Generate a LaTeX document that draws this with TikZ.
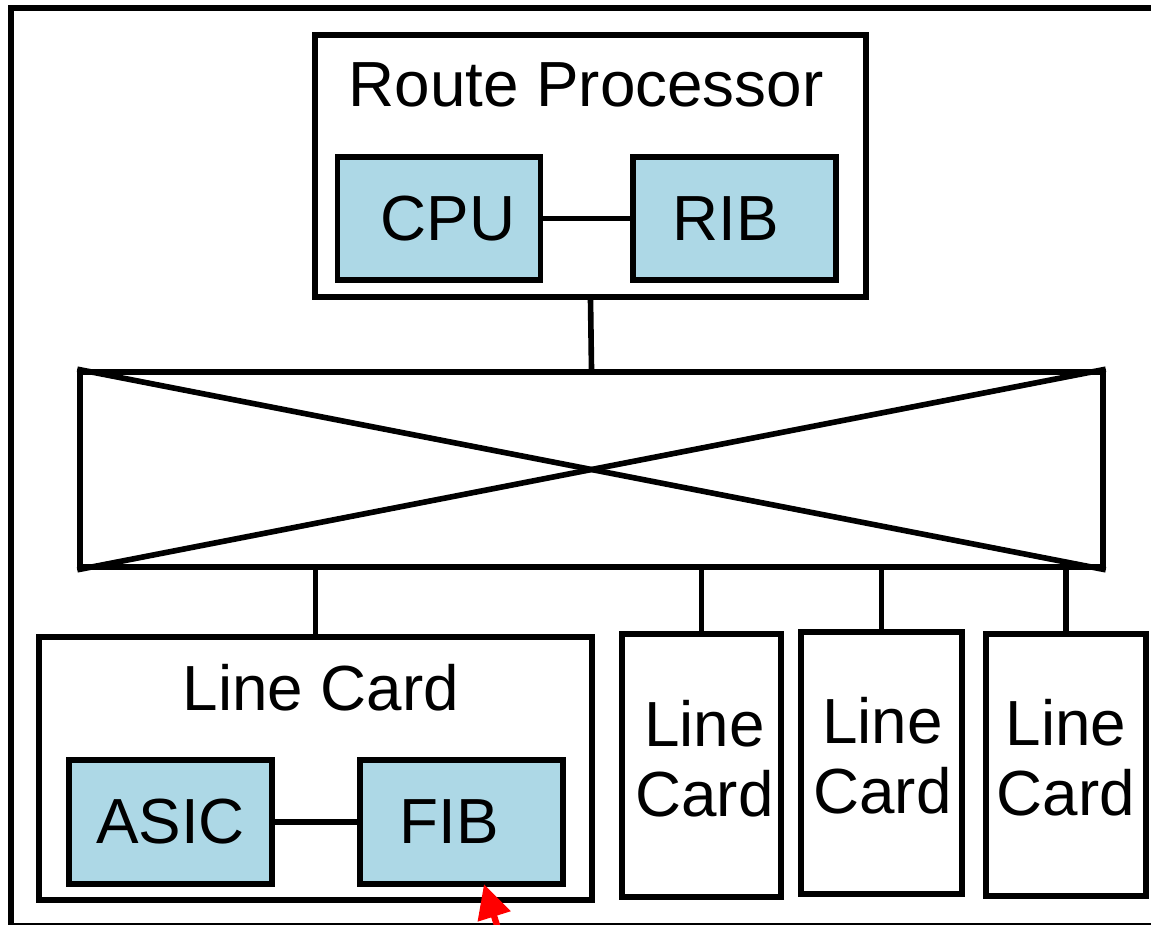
\documentclass[tikz,border=0pt]{standalone}
\usepackage{fontspec}
\setmainfont{Liberation Sans}
\usetikzlibrary{arrows.meta}
\definecolor{partblue}{HTML}{ADD8E6}
\tikzset{
    bigfont/.style={font=\fontsize{36.3}{40}\selectfont},
    box/.style={draw, line width=3.2pt, inner sep=0pt, bigfont},
    part/.style={box, fill=partblue, minimum width=4.06cm, minimum height=2.47cm},
    card/.style={box, minimum height=5.25cm},
    cardtext/.style={align=center, bigfont, yshift=0.14cm},
    wire/.style={line width=3.2pt}
}
\begin{document}
\begin{tikzpicture}[x=0.02cm, y=-0.02cm]
    \useasboundingbox (0,0) rectangle (1151,924);

    % Router chassis
    \draw[line width=3.2pt] (11,8) rectangle (1156,926);

    % Route processor
    \node[box, minimum width=11.02cm, minimum height=5.24cm] (rp) at (590.5,166) {};
    \node[bigfont] (rptitle) at (586,85) {Route Processor};
    \node[part, label={[bigfont, xshift=0.18cm]center:CPU}] (cpu) at (439,218.5) {};
    \node[part, label={[bigfont, xshift=-0.17cm]center:RIB}] (rib) at (734.5,218.5) {};
    \draw[wire] (cpu) -- (rib);

    % Switch fabric
    \node[box, minimum width=20.46cm, minimum height=3.9cm] (fab) at (591.5,469.5) {};
    \draw[wire] (fab.north west) -- (fab.south east);
    \draw[wire] (fab.south west) -- (fab.north east);
    \draw[wire] (rp.south) -- (fab.north);

    % Line card with forwarding parts
    \node[box, minimum width=11.06cm, minimum height=5.26cm] (lc1) at (315.5,768.5) {};
    \node[bigfont] (lctitle) at (321,688) {Line Card};
    \node[part, label={[bigfont]center:ASIC}] (asic) at (170.5,822) {};
    \node[part, label={[bigfont, xshift=-0.24cm]center:FIB}] (fib) at (461.5,822) {};
    \draw[wire] (asic) -- (fib);

    % Other line cards
    \node[card, minimum width=3.18cm, label={[cardtext, xshift=0.06cm]center:Line\\Card}] (lc2) at (701.5,765.5) {};
    \node[card, minimum width=3.22cm, label={[cardtext, xshift=0.02cm]center:Line\\Card}] (lc3) at (881.5,763) {};
    \node[card, minimum width=3.2cm, label={[cardtext]center:Line\\Card}] (lc4) at (1066,765) {};

    \foreach \c in {lc1,lc2,lc3,lc4}
        \draw[wire] (\c.north) -- (\c.north |- fab.south);

    % Pointer
    \coordinate (ptr) at (484,884);
    \coordinate (ptrtail) at (506,954);
    \draw[red, line width=3.6pt, -{Triangle[length=0.68cm, width=0.66cm]}] (ptrtail) -- (ptr);
\end{tikzpicture}
\end{document}
